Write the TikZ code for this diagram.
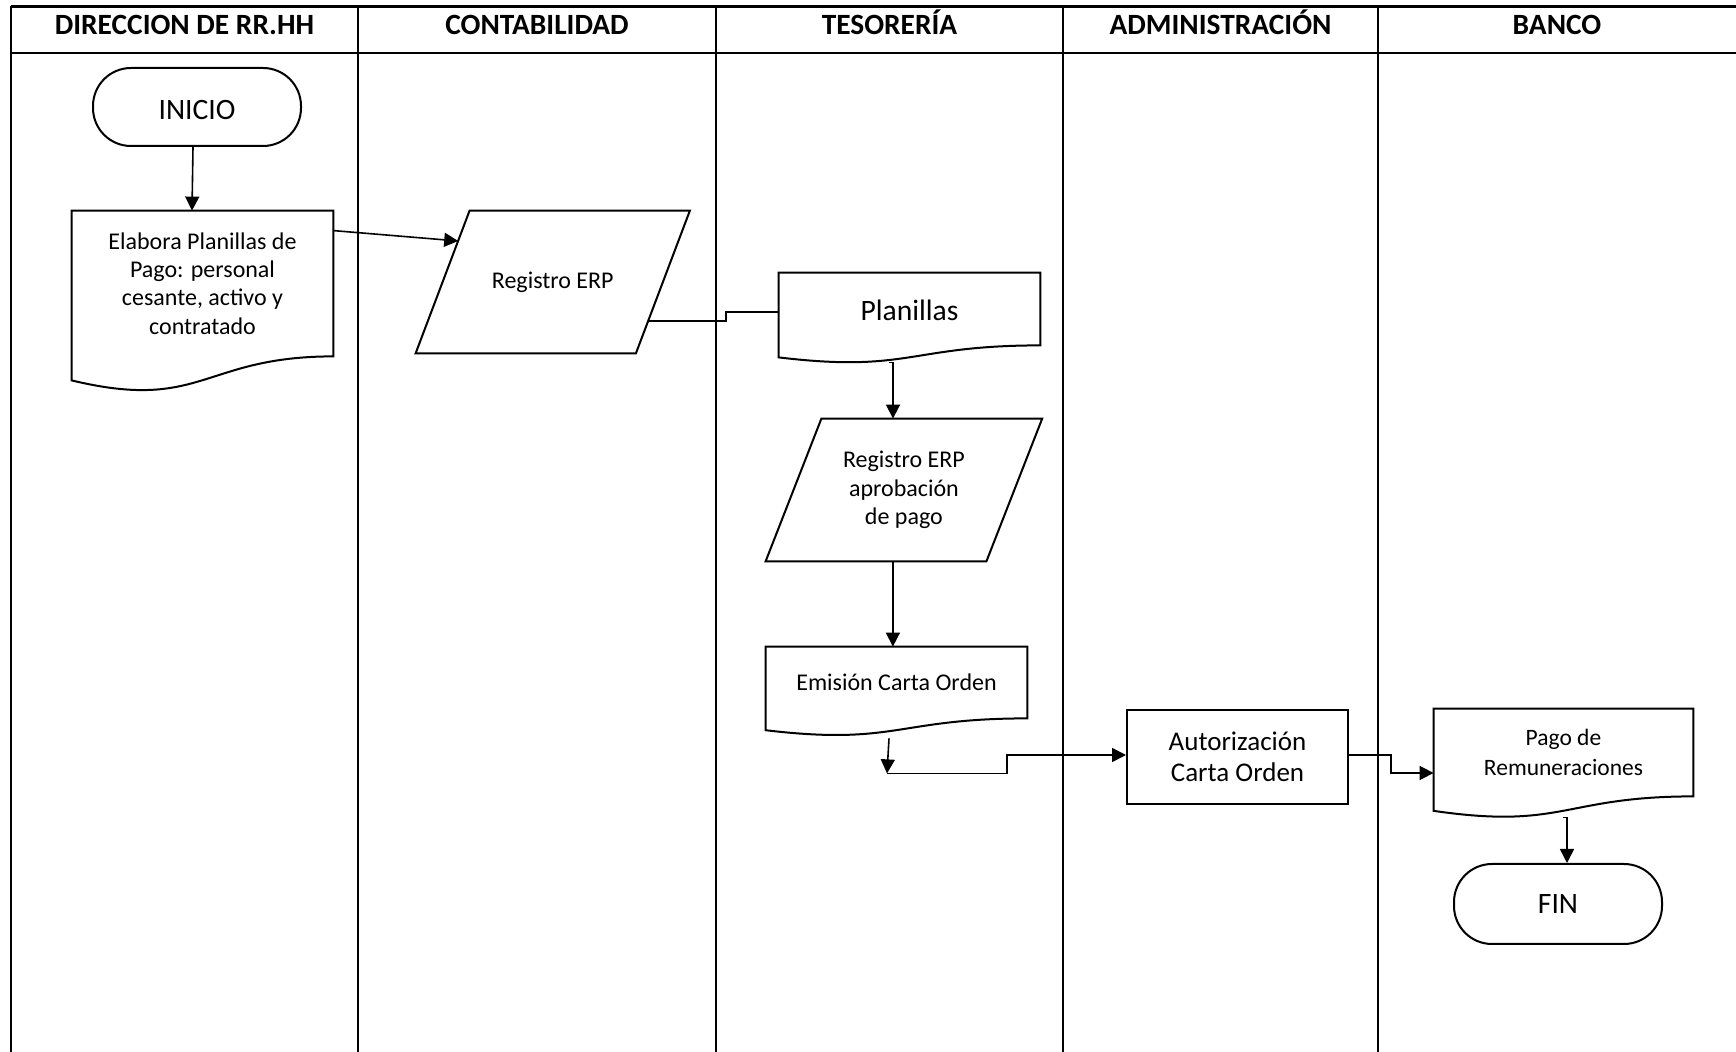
\documentclass[tikz,border=0pt]{standalone}
\usepackage{fontspec}
\setmainfont{Carlito}
\usetikzlibrary{calc,arrows.meta}

% document symbol: box with a wavy bottom edge drawn round a named node
\newcommand\docframe[1]{%
  \draw[outline] let \p1=(#1.north), \p2=(#1.south), \n1={\y1-\y2} in
    (#1.north west) -- (#1.north east) -- (#1.south east)
    .. controls (#1.south) and ($(#1.south)+(0,-0.381*\n1)$)
    .. ($(#1.south west)+(0,-0.1646*\n1)$) -- cycle;}
% data symbol: parallelogram drawn round a named node, slant in px
\newcommand\paraframe[2]{%
  \draw[outline] ([xshift=#2*0.5pt]#1.north west) -- ([xshift=#2*0.5pt]#1.north east)
    -- ([xshift=-#2*0.5pt]#1.south east) -- ([xshift=-#2*0.5pt]#1.south west) -- cycle;}

\begin{document}
\begin{tikzpicture}[x=0.5pt,y=-0.5pt,
  lane/.style={line width=0.75pt},
  frame/.style={line width=1.1pt},
  head/.style={anchor=base, font=\fontsize{14.7}{17}\selectfont\bfseries},
  outline/.style={line width=1pt, line join=miter},
  box/.style={draw=none, align=center, inner sep=0pt},
  termbox/.style={box, draw, line width=1pt, rounded corners=19pt,
    minimum width=104pt, minimum height=39pt},
  small/.style={font=\fontsize{12}{14.15}\selectfont},
  mid/.style={font=\fontsize{12}{14.6}\selectfont},
  big/.style={font=\fontsize{14.8}{16}\selectfont},
  conn/.style={line width=0.8pt},
  arr/.style={conn, -{Triangle[length=7pt,width=7pt]}},
]
\useasboundingbox (0,0) rectangle (1736,1052);

% swimlane grid
\draw[frame] (11,6.5) -- (1736,6.5);
\draw[frame] (11,53) -- (1736,53);
\draw[frame] (11,6.5) -- (11,1052);
\foreach \x in {358,716,1063,1378} \draw[lane] (\x,6.5) -- (\x,1052);

% lane headings
\node[head] (h1) at (184.5,34.3) {DIRECCION DE RR.HH};
\node[head] (h2) at (537,34.3) {CONTABILIDAD};
\node[head] (h3) at (889.5,34.3) {TESORERÍA};
\node[head] (h4) at (1220.5,34.3) {ADMINISTRACIÓN};
\node[head] (h5) at (1557,34.3) {BANCO};

% flow symbols
\node[termbox, big, text height=13pt] (inicio) at (197,107) {INICIO};

\node[box, small, minimum width=130.5pt, minimum height=72.5pt] (elabora) at (202.5,283.5)
  {Elabora Planillas de\\Pago: personal\\cesante, activo y\\contratado};
\docframe{elabora}

\node[box, small, minimum width=109.75pt, minimum height=71pt] (reg1) at (552.75,282) {Registro ERP};
\paraframe{reg1}{27}

\node[box, big, text height=12pt, minimum width=130.5pt, minimum height=36pt] (planillas) at (909.5,309) {Planillas};
\docframe{planillas}

\node[box, small, minimum width=110pt, minimum height=71pt] (reg2) at (903.9,490)
  {Registro ERP\\aprobación\\de pago};
\paraframe{reg2}{27.9}

\node[box, mid, minimum width=130.5pt, minimum height=35.5pt] (emision) at (896.5,682.5) {Emisión Carta Orden};
\docframe{emision}

\node[box, draw, line width=1pt, font=\fontsize{13.5}{15.7}\selectfont,
  minimum width=110.5pt, minimum height=47pt] (autorizacion) at (1237.5,757)
  {Autorización\\Carta Orden};

\node[box, font=\fontsize{11.75}{15}\selectfont, minimum width=129.5pt, minimum height=43.5pt] (pago) at (1563.5,752.5)
  {Pago de\\Remuneraciones};
\docframe{pago}

\node[termbox, big, minimum height=40pt] (fin) at (1558,904) {FIN};

% connector end points on slanted and wavy edges
\coordinate (reg1in) at ([shift={(15.6,-41)}]reg1.west);
\coordinate (reg1out) at ([shift={(-14.8,39)}]reg1.east);
\coordinate (plout) at ([shift={(-16.5,17)}]planillas.south);
\coordinate (emout) at ([shift={(-7.5,20)}]emision.south);
\coordinate (c1) at ([shift={(-9.5,55)}]emision.south);
\coordinate (pgout) at ([shift={(3.5,21)}]pago.south);

% connectors
\draw[arr] ([xshift=-2pt]inicio.south) -- ([xshift=-2.5pt]inicio.south |- elabora.north);
\draw[arr] ([yshift=-10pt]elabora.north east) -- (reg1in);
\draw[conn] (reg1out) -- ++(78,0) |- ([yshift=-1.5pt]planillas.west);
\draw[arr] ([xshift=-2pt]plout) -- (plout) -- (plout |- reg2.north);
\draw[arr] ([xshift=-5.5pt]reg2.south) -- ([xshift=-5.5pt]reg2.south |- emision.north);
\draw[arr] (emout) -- (c1);
\draw[arr] (c1) -- ++(120,0) |- ([yshift=1pt]autorizacion.west);
\draw[arr] ([yshift=1pt]autorizacion.east) -- ++(42,0) |- ([yshift=-10.25pt]pago.west);
\draw[arr] ([xshift=-2pt]pgout) -- (pgout) -- (pgout |- fin.north);
\end{tikzpicture}
\end{document}
